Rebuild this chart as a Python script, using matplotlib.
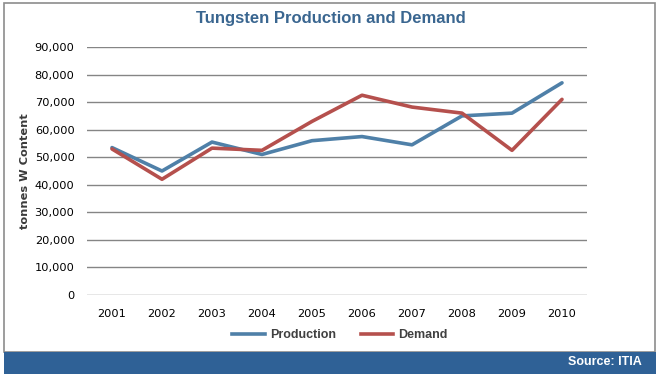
import matplotlib
matplotlib.use("Agg")
import matplotlib.pyplot as plt
from matplotlib.patches import Rectangle
from matplotlib.lines import Line2D
from matplotlib.ticker import FuncFormatter

# dados
anos = ['2001', '2002', '2003', '2004', '2005', '2006', '2007', '2008', '2009', '2010']
producao = [53500, 45000, 55500, 51000, 56000, 57500, 54500, 65000, 66000, 77000]
demanda = [53000, 42000, 53300, 52500, 63000, 72500, 68200, 66000, 52500, 71000]

W, H = 661, 374
fig = plt.figure(figsize=(W / 100, H / 100), dpi=100)

# moldura e faixa azul inferior
fig.add_artist(Rectangle((4 / W, 22 / H), 651 / W, 349 / H, transform=fig.transFigure,
                         fill=False, edgecolor='#8c8c8c', linewidth=1.2))
fig.add_artist(Rectangle((4 / W, 0), 652 / W, 22 / H, transform=fig.transFigure,
                         facecolor='#2f6196', edgecolor='none'))
fig.text(642 / W, 12 / H, 'Source: ITIA', color='white', fontsize=9, fontweight='bold',
         ha='right', va='center', family='Liberation Sans')

ax = fig.add_axes([87 / W, (H - 295) / H, 500 / W, 248 / H])
x = range(len(anos))
ax.plot(x, producao, color='#4f80a8', linewidth=2.6, label='Production', solid_capstyle='round')
ax.plot(x, demanda, color='#b5504d', linewidth=2.6, label='Demand', solid_capstyle='round')

ax.set_xlim(-0.5, len(anos) - 0.5)
ax.set_ylim(0, 90000)
ax.set_yticks(range(0, 90001, 10000))
ax.yaxis.set_major_formatter(FuncFormatter(lambda v, p: f'{int(v):,}'))
ax.set_xticks(list(x))
ax.set_xticklabels(anos)
ax.yaxis.grid(True, color='#858585', linewidth=1.0)
ax.set_axisbelow(True)
for s in ax.spines.values():
    s.set_visible(False)
ax.tick_params(axis='both', length=0, labelsize=8.2, colors='black')
ax.tick_params(axis='y', pad=9)
ax.tick_params(axis='x', pad=10)

ax.set_ylabel('tonnes W Content', fontsize=8.2, fontweight='bold', color='#3a3a3a', labelpad=3)

fig.text(331 / W, (H - 18) / H, 'Tungsten Production and Demand', fontsize=12,
         fontweight='bold', color='#3a6690', ha='center', va='center', family='Liberation Sans')

handles = [Line2D([], [], color='#4f80a8', linewidth=2.6),
           Line2D([], [], color='#b5504d', linewidth=2.6)]
fig.legend(handles, ['Production', 'Demand'], loc='center', bbox_to_anchor=(340 / W, (H - 335) / H),
           ncol=2, frameon=False, handlelength=2.6, columnspacing=2.0, handletextpad=0.4,
           prop={'family': 'Liberation Sans', 'weight': 'bold', 'size': 9}, labelcolor='#404040')

fig.savefig('out.png', dpi=100)
